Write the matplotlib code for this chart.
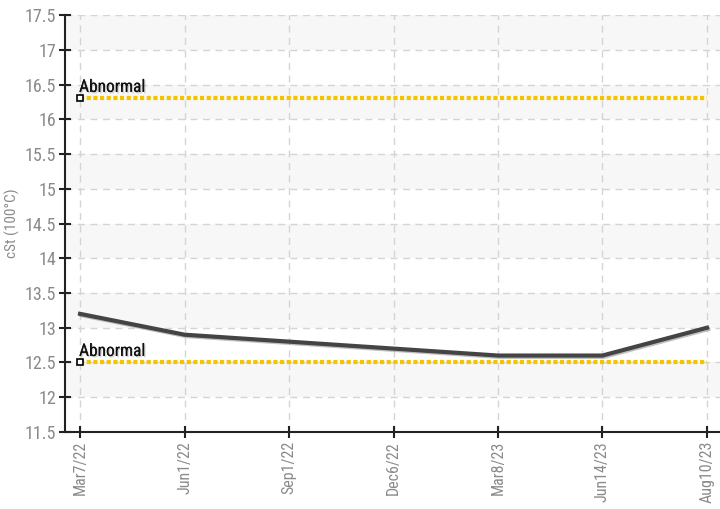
import matplotlib
matplotlib.use("Agg")
import matplotlib.pyplot as plt
import matplotlib.patheffects as pe
from matplotlib import font_manager

names = {f.name for f in font_manager.fontManager.ttflist}
narrow = [n for n in ["Liberation Sans Narrow", "Roboto Condensed", "Open Sans Condensed"] if n in names]
plt.rcParams['font.family'] = narrow + ['Liberation Sans', 'DejaVu Sans']

# sample dates and viscosity readings
dates = ["Mar7/22", "Jun1/22", "Sep1/22", "Dec6/22", "Mar8/23", "Jun14/23", "Aug10/23"]
cst_values = [13.2, 12.9, 12.8, 12.7, 12.6, 12.6, 13.0]

# alarm limits
limit_values = [16.3, 12.5]
limit_labels = ["Abnormal", "Abnormal"]

y_ticks = [11.5 + 0.5 * i for i in range(13)]

fig = plt.figure(figsize=(7.2, 5.09), dpi=100)
ax = fig.add_axes([0.0903, 0.1513, 0.9097, 0.8192])

x = list(range(len(dates)))
ax.set_xlim(-0.144, len(dates) - 1 + 0.125)
ax.set_ylim(11.5, 17.5)

# alternating horizontal bands
for lo in [12, 13, 14, 15, 16, 17]:
    ax.axhspan(lo, lo + 0.5, color="#f7f7f7", zorder=0, lw=0)

ax.grid(True, color="#d4d4d4", linestyle=(0, (5, 4)), linewidth=1, zorder=1)

for val, lab in zip(limit_values, limit_labels):
    ax.plot([x[0], x[-1]], [val, val], color="#f5c400", linewidth=3,
            linestyle=(0, (1, 0.6)), zorder=3, solid_capstyle="butt")
    ax.plot([x[0]], [val], marker="s", markersize=5, markerfacecolor="white",
            markeredgecolor="black", markeredgewidth=1.2, zorder=5)
    ax.text(x[0] - 0.01, val + 0.05, lab, fontsize=12.5, color="#111111", zorder=6,
            va="bottom", ha="left",
            path_effects=[pe.withSimplePatchShadow(offset=(1, -1), shadow_rgbFace="#999999", alpha=0.4),
                          pe.Normal()])

ax.plot(x, cst_values, color="#444444", linewidth=3, zorder=4,
        path_effects=[pe.SimpleLineShadow(offset=(1, -1), shadow_color="#999999", alpha=0.6),
                      pe.Normal()])

ax.set_xticks(x)
ax.set_xticklabels(dates, rotation=90, fontsize=11.5, color="#8a8a8a")
ax.set_yticks(y_ticks)
ax.set_yticklabels([f"{v:g}" for v in y_ticks], fontsize=13, color="#8a8a8a")
ax.tick_params(axis="both", direction="inout", length=9, width=1.5, color="#222222", pad=2)
ax.set_ylabel("cSt (100°C)", fontsize=11, color="#8a8a8a", labelpad=3)

for side in ["top", "right"]:
    ax.spines[side].set_visible(False)
for side in ["left", "bottom"]:
    ax.spines[side].set_color("#222222")
    ax.spines[side].set_linewidth(1.5)

fig.savefig("out.png", dpi=100)
